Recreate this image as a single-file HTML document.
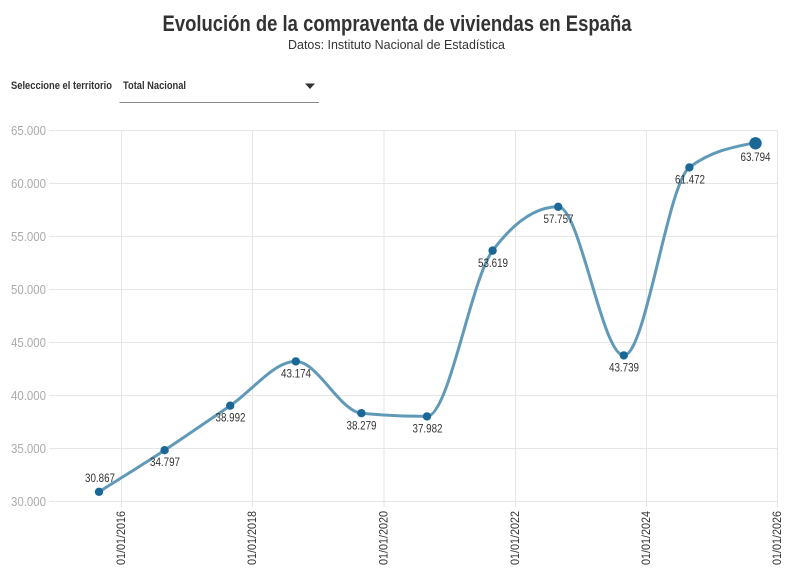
<!DOCTYPE html>
<html>
<head>
<meta charset="utf-8">
<style>
html,body{margin:0;padding:0;background:#fff;}
svg{display:block;}
text{font-family:"Liberation Sans Narrow","Liberation Sans",sans-serif;}
</style>
</head>
<body>
<svg width="794" height="575" viewBox="0 0 794 575" xmlns="http://www.w3.org/2000/svg">
  <rect width="794" height="575" fill="#fff"/>
  <!-- Title -->
  <text x="397" y="31" text-anchor="middle" font-size="22" font-weight="bold" fill="#333" textLength="469" lengthAdjust="spacingAndGlyphs">Evolución de la compraventa de viviendas en España</text>
  <text x="396.5" y="49" text-anchor="middle" font-size="13" fill="#333" textLength="217" lengthAdjust="spacingAndGlyphs">Datos: Instituto Nacional de Estadística</text>

  <!-- Dropdown -->
  <text x="11" y="89" font-size="11" font-weight="bold" fill="#333" textLength="101" lengthAdjust="spacingAndGlyphs">Seleccione el territorio</text>
  <text x="123" y="89" font-size="11" font-weight="bold" fill="#333" textLength="63" lengthAdjust="spacingAndGlyphs">Total Nacional</text>
  <polygon points="305,83.5 315,83.5 310,89" fill="#333"/>
  <line x1="119.5" y1="102.5" x2="319" y2="102.5" stroke="#888" stroke-width="1"/>

  <!-- Horizontal grid -->
  <g stroke="#e6e6e6" stroke-width="1">
    <line x1="49" y1="130.5" x2="778" y2="130.5"/>
    <line x1="49" y1="183.5" x2="778" y2="183.5"/>
    <line x1="49" y1="236.5" x2="778" y2="236.5"/>
    <line x1="49" y1="289.5" x2="778" y2="289.5"/>
    <line x1="49" y1="342.5" x2="778" y2="342.5"/>
    <line x1="49" y1="395.5" x2="778" y2="395.5"/>
    <line x1="49" y1="448.5" x2="778" y2="448.5"/>
    <line x1="49" y1="501.5" x2="778" y2="501.5"/>
  </g>
  <!-- Vertical grid -->
  <g stroke="#e6e6e6" stroke-width="1">
    <line x1="121.5" y1="130" x2="121.5" y2="507"/>
    <line x1="252.5" y1="130" x2="252.5" y2="507"/>
    <line x1="384" y1="130" x2="384" y2="507"/>
    <line x1="515.5" y1="130" x2="515.5" y2="507"/>
    <line x1="646.5" y1="130" x2="646.5" y2="507"/>
    <line x1="777.5" y1="130" x2="777.5" y2="507"/>
  </g>

  <!-- Y labels -->
  <g font-size="13" fill="#aaa" text-anchor="end">
    <text x="46" y="135" textLength="35" lengthAdjust="spacingAndGlyphs">65.000</text>
    <text x="46" y="188" textLength="35" lengthAdjust="spacingAndGlyphs">60.000</text>
    <text x="46" y="241" textLength="35" lengthAdjust="spacingAndGlyphs">55.000</text>
    <text x="46" y="294" textLength="35" lengthAdjust="spacingAndGlyphs">50.000</text>
    <text x="46" y="347" textLength="35" lengthAdjust="spacingAndGlyphs">45.000</text>
    <text x="46" y="400" textLength="35" lengthAdjust="spacingAndGlyphs">40.000</text>
    <text x="46" y="453" textLength="35" lengthAdjust="spacingAndGlyphs">35.000</text>
    <text x="46" y="506" textLength="35" lengthAdjust="spacingAndGlyphs">30.000</text>
  </g>

  <!-- X labels -->
  <g font-size="12" fill="#333" text-anchor="end">
    <text transform="translate(125,511) rotate(-90)" textLength="54" lengthAdjust="spacingAndGlyphs">01/01/2016</text>
    <text transform="translate(256,511) rotate(-90)" textLength="54" lengthAdjust="spacingAndGlyphs">01/01/2018</text>
    <text transform="translate(387.5,511) rotate(-90)" textLength="54" lengthAdjust="spacingAndGlyphs">01/01/2020</text>
    <text transform="translate(519,511) rotate(-90)" textLength="54" lengthAdjust="spacingAndGlyphs">01/01/2022</text>
    <text transform="translate(650,511) rotate(-90)" textLength="54" lengthAdjust="spacingAndGlyphs">01/01/2024</text>
    <text transform="translate(781,511) rotate(-90)" textLength="54" lengthAdjust="spacingAndGlyphs">01/01/2026</text>
  </g>

  <!-- Line -->
  <path d="M99,491.8 C120.87,478.18 142.73,464.54 164.6,450.2 C186.47,435.86 208.33,420.49 230.2,405.7 C252.07,390.91 273.93,361.4 295.8,361.4 C317.67,361.4 339.53,411.07 361.4,413.2 C383.27,415.33 404.13,416.4 427,416.4 C448.87,416.4 470.73,279.81 492.6,250.6 C514.47,221.39 536.33,206.8 558.2,206.8 C580.07,206.8 601.93,355.4 623.8,355.4 C645.67,355.4 667.53,183.8 689.4,167.4 C711.27,151 733.13,146.9 755,142.8" fill="none" stroke="#6199b8" stroke-width="3" stroke-linecap="round"/>

  <!-- Points -->
  <g fill="#1b6896">
    <circle cx="99" cy="491.8" r="4.2"/>
    <circle cx="164.6" cy="450.2" r="4.2"/>
    <circle cx="230.2" cy="405.7" r="4.2"/>
    <circle cx="295.8" cy="361.4" r="4.2"/>
    <circle cx="361.4" cy="413.2" r="4.2"/>
    <circle cx="427" cy="416.4" r="4.2"/>
    <circle cx="492.6" cy="250.6" r="4.2"/>
    <circle cx="558.2" cy="206.8" r="4.2"/>
    <circle cx="623.8" cy="355.4" r="4.2"/>
    <circle cx="689.4" cy="167.4" r="4.2"/>
    <circle cx="755.5" cy="143.3" r="6.2"/>
  </g>

  <!-- Value labels -->
  <g font-size="12" fill="#333" text-anchor="middle">
    <text x="100" y="482" textLength="30" lengthAdjust="spacingAndGlyphs">30.867</text>
    <text x="165" y="466" textLength="30" lengthAdjust="spacingAndGlyphs">34.797</text>
    <text x="230.5" y="421.5" textLength="30" lengthAdjust="spacingAndGlyphs">38.992</text>
    <text x="296" y="377.5" textLength="30" lengthAdjust="spacingAndGlyphs">43.174</text>
    <text x="361.5" y="429.5" textLength="30" lengthAdjust="spacingAndGlyphs">38.279</text>
    <text x="427.5" y="432.5" textLength="30" lengthAdjust="spacingAndGlyphs">37.982</text>
    <text x="493" y="267" textLength="30" lengthAdjust="spacingAndGlyphs">53.619</text>
    <text x="558.5" y="223" textLength="30" lengthAdjust="spacingAndGlyphs">57.757</text>
    <text x="624" y="371.5" textLength="30" lengthAdjust="spacingAndGlyphs">43.739</text>
    <text x="690" y="183.5" textLength="30" lengthAdjust="spacingAndGlyphs">61.472</text>
    <text x="755.5" y="161" textLength="30" lengthAdjust="spacingAndGlyphs">63.794</text>
  </g>
</svg>
</body>
</html>
